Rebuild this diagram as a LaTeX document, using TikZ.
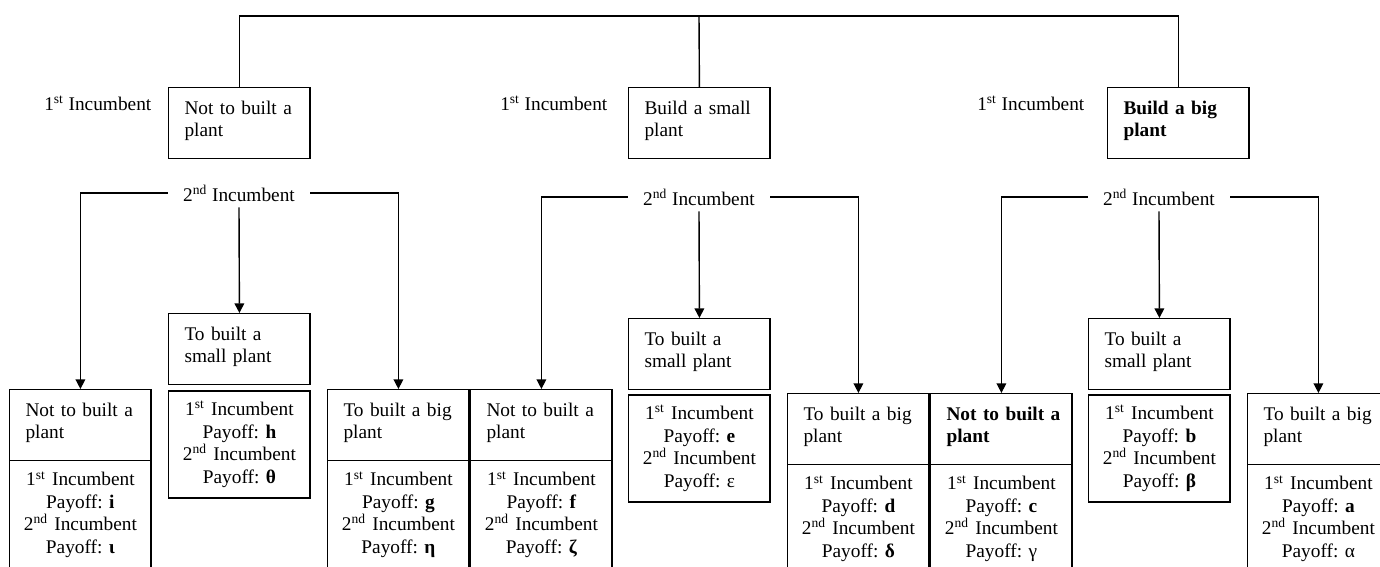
\documentclass[tikz,border=0pt]{standalone}
\usepackage{fontspec}
\setmainfont{Liberation Serif}
\usetikzlibrary{arrows.meta,positioning}
\frenchspacing
\newcommand{\fst}{1\textsuperscript{st} Incumbent}
\newcommand{\snd}{2\textsuperscript{nd} Incumbent}
\newcommand{\payoffs}[2]{\fst\\Payoff: #1\\\snd\\Payoff: #2}
\begin{document}
\begin{tikzpicture}[x=0.02cm, y=-0.02cm, line width=0.8pt, >={Triangle[length=5.5pt,width=5.5pt]}, font=\fontsize{11}{12.8}\selectfont]
	\tikzset{choice/.style={draw, anchor=north west, align=left, text width=62.5pt, inner xsep=9pt, inner ysep=0pt, text height=15pt, text depth=25.3pt},
		payoff/.style={draw, align=center, text width=76.5pt, inner xsep=2pt, inner ysep=0pt, minimum height=2.14cm},
		leafpay/.style={payoff, minimum height=2.16cm},
		player/.style={inner xsep=0.3cm, inner ysep=3pt}}
	\useasboundingbox (0,0) rectangle (1380,566);
	% first incumbent
	\node[choice] (top1) at (168,87) {Not to built a\\plant};
	\node[choice] (top2) at (628,87) {Build a small\\plant};
	\node[choice] (top3) at (1107,87) {\textbf{Build a big}\\\textbf{plant}};
	\node[anchor=east, inner sep=0pt] (lab1) at ([shift={(-16,16)}]top1.north west) {\fst};
	\node[anchor=east, inner sep=0pt] (lab2) at ([shift={(-20,16)}]top2.north west) {\fst};
	\node[anchor=east, inner sep=0pt] (lab3) at ([shift={(-22,16)}]top3.north west) {\fst};
	\coordinate (root) at (699,16);
	\draw (top1.north) |- (root) -| (top3.north);
	\draw (root) -- (top2.north);
	% second incumbent
	\node[player] (inc1) at (239,193) {\snd};
	\node[player] (inc2) at (699,197) {\snd};
	\node[player] (inc3) at (1159,197) {\snd};
	\node[choice] (small1) at (168,313) {To built a\\small plant};
	\node[choice] (small2) at (628,318) {To built a\\small plant};
	\node[choice] (small3) at (1088,318) {To built a\\small plant};
	\node[payoff, below=0.1cm of small1] (pay1) {\payoffs{\textbf{h}}{\textbf{θ}}};
	\node[payoff, below=0.08cm of small2] (pay2) {\payoffs{\textbf{e}}{ε}};
	\node[payoff, below=0.08cm of small3] (pay3) {\payoffs{\textbf{b}}{\textbf{β}}};
	\node[choice] (leafA) at (9,389) {Not to built a\\plant};
	\node[choice] (leafB) at (327,389) {To built a big\\plant};
	\node[choice] (leafC) at (470,389) {Not to built a\\plant};
	\node[choice] (leafD) at (787,393) {To built a big\\plant};
	\node[choice] (leafE) at (930,393) {\mbox{\textbf{Not to built a}}\\\textbf{plant}};
	\node[choice] (leafF) at (1247,393) {To built a big\\plant};
	\node[leafpay, below=-0.8pt of leafA] (payA) {\payoffs{\textbf{i}}{\textbf{ι}}};
	\node[leafpay, below=-0.8pt of leafB] (payB) {\payoffs{\textbf{g}}{\textbf{η}}};
	\node[leafpay, below=-0.8pt of leafC] (payC) {\payoffs{\textbf{f}}{\textbf{ζ}}};
	\node[leafpay, below=-0.8pt of leafD] (payD) {\payoffs{\textbf{d}}{\textbf{δ}}};
	\node[leafpay, below=-0.8pt of leafE] (payE) {\payoffs{\textbf{c}}{γ}};
	\node[leafpay, below=-0.8pt of leafF] (payF) {\payoffs{\textbf{a}}{α}};
	\draw[->] (inc1.west) -| (leafA.north);
	\draw[->] (inc1.east) -| (leafB.north);
	\draw[->] (inc1.south) -- (small1.north);
	\draw[->] (inc2.west) -| (leafC.north);
	\draw[->] (inc2.east) -| (leafD.north);
	\draw[->] (inc2.south) -- (small2.north);
	\draw[->] (inc3.west) -| (leafE.north);
	\draw[->] (inc3.east) -| (leafF.north);
	\draw[->] (inc3.south) -- (small3.north);
\end{tikzpicture}
\end{document}
